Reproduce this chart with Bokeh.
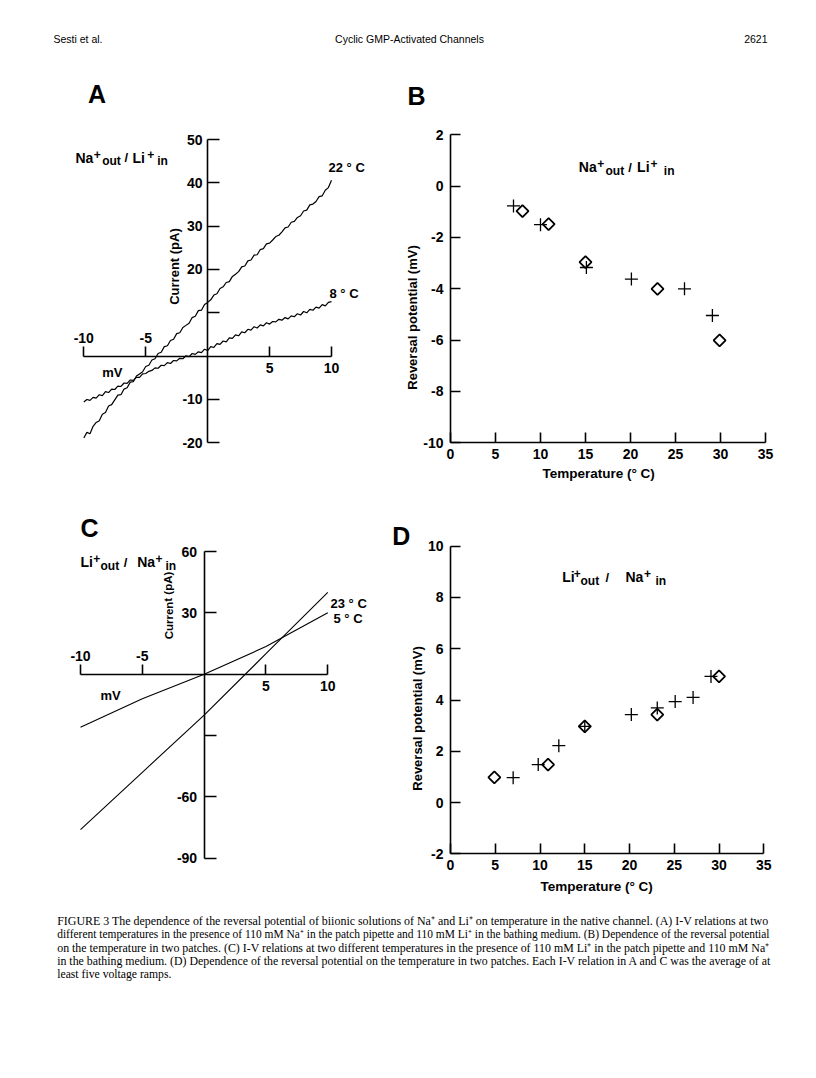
from bokeh.plotting import figure
from bokeh.models import Range1d, LinearAxis, FixedTicker, Label, PrintfTickFormatter
from bokeh.embed import file_html
from bokeh.resources import INLINE

# ---------------- data ----------------
# Panel A: I-V traces, Na+ out / Li+ in
a_mv = [-10.0, -9.75, -9.5, -9.25, -9.0, -8.75, -8.5, -8.25, -8.0, -7.75,
        -7.5, -7.25, -7.0, -6.75, -6.5, -6.25, -6.0, -5.75, -5.5, -5.25,
        -5.0, -4.75, -4.5, -4.25, -4.0, -3.75, -3.5, -3.25, -3.0, -2.75,
        -2.5, -2.25, -2.0, -1.75, -1.5, -1.25, -1.0, -0.75, -0.5, -0.25,
        0.0, 0.25, 0.5, 0.75, 1.0, 1.25, 1.5, 1.75, 2.0, 2.25,
        2.5, 2.75, 3.0, 3.25, 3.5, 3.75, 4.0, 4.25, 4.5, 4.75,
        5.0, 5.25, 5.5, 5.75, 6.0, 6.25, 6.5, 6.75, 7.0, 7.25,
        7.5, 7.75, 8.0, 8.25, 8.5, 8.75, 9.0, 9.25, 9.5, 9.75, 10.0]
a_22C = [-18.9, -17.6, -17.9, -16.2, -15.3, -14.9, -13.4, -13.0, -11.5, -11.2,
         -10.1, -9.0, -8.9, -7.6, -7.3, -6.0, -5.9, -4.6, -4.1, -3.6,
         -2.4, -2.1, -0.9, -0.6, 0.6, 0.9, 2.2, 2.4, 3.6, 3.9,
         5.2, 5.4, 6.6, 7.1, 7.6, 8.9, 9.2, 10.5, 10.6, 11.9,
         12.4, 13.0, 14.1, 14.4, 15.6, 16.0, 17.0, 17.2, 18.4, 18.9,
         19.5, 20.6, 20.8, 22.0, 22.2, 23.3, 23.4, 24.6, 24.8, 25.9,
         26.1, 26.8, 27.6, 27.9, 28.7, 29.6, 29.8, 30.9, 31.1, 32.0,
         32.4, 33.5, 33.7, 34.9, 35.1, 35.7, 36.8, 37.0, 38.3, 38.9, 40.6]
a_8C = [-10.6, -10.0, -10.2, -9.5, -9.7, -8.9, -9.1, -8.2, -8.4, -7.6,
        -7.7, -6.9, -7.0, -6.2, -6.3, -5.5, -5.6, -4.9, -4.9, -4.1,
        -4.0, -3.5, -3.3, -2.7, -2.8, -2.1, -2.2, -1.5, -1.7, -1.0,
        -1.1, -0.5, -0.6, 0.1, -0.1, 0.6, 0.4, 1.0, 0.8, 1.6,
        1.3, 2.2, 2.0, 2.9, 2.7, 3.5, 3.3, 4.2, 4.1, 4.9,
        4.7, 5.6, 5.4, 6.2, 6.0, 6.8, 6.5, 7.2, 7.0, 7.7,
        7.4, 8.0, 7.9, 8.5, 8.3, 8.9, 8.6, 9.3, 9.1, 9.8,
        9.5, 10.3, 10.0, 10.8, 10.6, 11.3, 11.1, 11.9, 11.6, 12.4, 12.6]

# Panel B: reversal potential vs temperature, Na+ out / Li+ in
b_cross_t = [7.0, 10.0, 15.1, 20.1, 26.0, 29.1]
b_cross_v = [-0.77, -1.5, -3.17, -3.62, -4.0, -5.04]
b_diam_t = [8.0, 10.9, 15.0, 23.0, 29.9]
b_diam_v = [-0.97, -1.48, -2.96, -4.0, -6.01]

# Panel C: I-V relations, Li+ out / Na+ in
c_mv = [-10, -5, 0, 5, 10]
c_23C = [-76, -48, -20, 10, 40]
c_5C = [-26, -12, 0, 13.5, 30]

# Panel D: reversal potential vs temperature, Li+ out / Na+ in
d_cross_t = [7.0, 9.8, 12.1, 15.0, 20.2, 23.1, 25.1, 27.1, 29.1]
d_cross_v = [0.97, 1.48, 2.22, 2.97, 3.43, 3.69, 3.94, 4.1, 4.92]
d_diam_t = [4.9, 10.9, 15.0, 23.1, 30.0]
d_diam_v = [0.98, 1.48, 2.97, 3.43, 4.92]

# tick values
a_x_ticks_below = [5, 10]
a_x_ticks_above = [-10, -5]
a_y_ticks_labelled = [-20, -10, 20, 30, 40, 50]
a_y_ticks_plain = [10]
c_x_ticks_below = [5, 10]
c_x_ticks_above = [-10, -5]
c_y_ticks_labelled = [-90, -60, 30, 60]
c_y_ticks_plain = [-30]
bd_x_ticks = [0, 5, 10, 15, 20, 25, 30, 35]
b_y_ticks = [-10, -8, -6, -4, -2, 0, 2]
d_y_ticks = [-2, 0, 2, 4, 6, 8, 10]

caption_lines = [
    "FIGURE 3   The dependence of the reversal potential of biionic solutions of Na\u207a and Li\u207a on temperature in the native channel. (A) I-V relations at two",
    "different temperatures in the presence of 110 mM Na\u207a in the patch pipette and 110 mM Li\u207a in the bathing medium. (B) Dependence of the reversal potential",
    "on the temperature in two patches. (C) I-V relations at two different temperatures in the presence of 110 mM Li\u207a in the patch pipette and 110 mM Na\u207a",
    "in the bathing medium. (D) Dependence of the reversal potential on the temperature in two patches. Each I-V relation in A and C was the average of at",
    "least five voltage ramps.",
]
caption_sizes = [11.95, 11.45, 11.9, 11.85, 11.7]

# ---------------- page figure ----------------
FONT = "Liberation Sans"
W, H = 800, 1062
p = figure(width=W, height=H, x_range=Range1d(0, W), y_range=Range1d(H, 0),
           x_axis_type=None, y_axis_type=None, toolbar_location=None,
           output_backend="svg", min_border=0, outline_line_color=None)
p.background_fill_color = "white"
p.border_fill_color = "white"


def make_range(p0, v0, p1, v1, lo, hi):
    k = (v1 - v0) / (p1 - p0)
    return Range1d(start=v0 + (lo - p0) * k, end=v0 + (hi - p0) * k)


p.extra_x_ranges = {
    "Ax": make_range(83.3, -10, 331.0, 10, 0, W),
    "Bx": make_range(450.0, 0, 765.0, 35, 0, W),
    "Cx": make_range(80.0, -10, 327.3, 10, 0, W),
    "Dx": make_range(450.0, 0, 763.3, 35, 0, W),
}
p.extra_y_ranges = {
    "Ay": make_range(139.0, 50, 442.3, -20, H, 0),
    "By": make_range(134.3, 2, 442.3, -10, H, 0),
    "Cy": make_range(551.0, 60, 857.7, -90, H, 0),
    "Dy": make_range(545.7, 10, 853.3, -2, H, 0),
}


def axis(side, xr, yr, loc, ticks, bounds=None, tick_in=0, tick_out=0,
         standoff=6, line=True, labels=True):
    ax = LinearAxis(x_range_name=xr, y_range_name=yr, fixed_location=loc,
                    ticker=FixedTicker(ticks=ticks, minor_ticks=[]),
                    formatter=PrintfTickFormatter(format="%d"),
                    major_tick_in=tick_in, major_tick_out=tick_out,
                    minor_tick_in=0, minor_tick_out=0,
                    major_label_standoff=standoff,
                    axis_line_width=1.6, axis_line_color="black" if line else None,
                    major_tick_line_width=1.6, major_tick_line_color="black",
                    major_label_text_font=FONT, major_label_text_font_size="14px",
                    major_label_text_font_style="bold",
                    major_label_text_color="black" if labels else None)
    if bounds is not None:
        ax.bounds = bounds
    p.add_layout(ax, side)


def txt(x, y, s, size=13, bold=True, font=FONT, align="left", baseline="alphabetic", angle=0.0):
    p.add_layout(Label(x=x, y=y, text=s, text_font=font, text_font_size=f"{size}px",
                       text_font_style="bold" if bold else "normal", text_align=align,
                       text_baseline=baseline, angle=angle, text_color="black"))


def ion(x0, base, parts):
    for dx, dy, s, size in parts:
        txt(x0 + dx, base + dy, s, size=size)


# ---- Panel A ----
axis("below", "Ax", "Ay", 0, a_x_ticks_below, bounds=(-10, 10), tick_in=10, standoff=7)
axis("above", "Ax", "Ay", 0, a_x_ticks_above, tick_out=10, standoff=3, line=False)
axis("left", "Ax", "Ay", 0, a_y_ticks_labelled, bounds=(-20, 50), tick_in=12, standoff=5)
axis("left", "Ax", "Ay", 0, a_y_ticks_plain, tick_in=12, line=False, labels=False)
p.line(a_mv, a_22C, line_color="black", line_width=1.2, x_range_name="Ax", y_range_name="Ay")
p.line(a_mv, a_8C, line_color="black", line_width=1.2, x_range_name="Ax", y_range_name="Ay")
txt(87.5, 93, "A", size=25)
ion(75, 157, [(0, 0, "Na", 14), (18.3, -3.5, "+", 12), (26.7, 3.5, "out", 12),
              (49, 0, "/", 13), (57, 0, "Li", 14), (71.7, -3.5, "+", 12), (81.7, 3.5, "in", 12)])
txt(328, 167, "22 \u00b0 C")
txt(329, 293, "8 \u00b0 C")
txt(101.7, 372, "mV")
txt(174, 266, "Current (pA)", align="center", baseline="middle", angle=1.5708)

# ---- Panel B ----
axis("left", "Bx", "By", 0, b_y_ticks, bounds=(-10, 2), tick_in=10, standoff=7)
axis("below", "Bx", "By", -10, bd_x_ticks, bounds=(0, 35), tick_in=10, standoff=6)
p.scatter(b_cross_t, b_cross_v, marker="cross", size=13, line_color="black", line_width=1.3,
          x_range_name="Bx", y_range_name="By")
p.scatter(b_diam_t, b_diam_v, marker="square", angle=0.7854, size=8.5, fill_color=None,
          line_color="black", line_width=1.8, x_range_name="Bx", y_range_name="By")
txt(407, 95, "B", size=25)
ion(578.3, 166.7, [(0, 0, "Na", 14), (18.4, -3.5, "+", 12), (26.7, 3.5, "out", 12),
                   (49.5, 0, "/", 13), (58.3, 0, "Li", 14), (71.7, -3.5, "+", 12), (85, 3.5, "in", 12)])
txt(600, 473, "Temperature  (\u00b0 C)", size=13.5, align="center", baseline="middle")
txt(412, 317, "Reversal potential (mV)", align="center", baseline="middle", angle=1.5708)

# ---- Panel C ----
axis("below", "Cx", "Cy", 0, c_x_ticks_below, bounds=(-10, 10), tick_in=10, standoff=7)
axis("above", "Cx", "Cy", 0, c_x_ticks_above, tick_out=10, standoff=3, line=False)
axis("left", "Cx", "Cy", 0, c_y_ticks_labelled, bounds=(-90, 60), tick_in=12, standoff=7)
axis("left", "Cx", "Cy", 0, c_y_ticks_plain, tick_in=12, line=False, labels=False)
p.line(c_mv, c_23C, line_color="black", line_width=1.1, x_range_name="Cx", y_range_name="Cy")
p.line(c_mv, c_5C, line_color="black", line_width=1.1, x_range_name="Cx", y_range_name="Cy")
txt(80, 527, "C", size=25)
ion(80, 561.7, [(0, 0, "Li", 14), (12.7, -3.5, "+", 12), (20, 3.5, "out", 12),
                (43.3, 0, "/", 13), (56.7, 0, "Na", 14), (75, -3.5, "+", 12), (85, 3.5, "in", 12)])
txt(330, 603, "23 \u00b0 C")
txt(333, 618, "5 \u00b0 C")
txt(100, 695, "mV")
txt(168, 605, "Current (pA)", size=11.5, align="center", baseline="middle", angle=1.5708)

# ---- Panel D ----
axis("left", "Dx", "Dy", 0, d_y_ticks, bounds=(-2, 10), tick_in=10, standoff=7)
axis("below", "Dx", "Dy", -2, bd_x_ticks, bounds=(0, 35), tick_in=10, standoff=6)
p.scatter(d_cross_t, d_cross_v, marker="cross", size=13, line_color="black", line_width=1.3,
          x_range_name="Dx", y_range_name="Dy")
p.scatter(d_diam_t, d_diam_v, marker="square", angle=0.7854, size=8.5, fill_color=None,
          line_color="black", line_width=1.8, x_range_name="Dx", y_range_name="Dy")
txt(391.7, 535, "D", size=25)
ion(561.7, 576.7, [(0, 0, "Li", 14), (11.6, -3.5, "+", 12), (18.3, 3.5, "out", 12),
                   (43.3, 0, "/", 13), (63.3, 0, "Na", 14), (81.7, -3.5, "+", 12), (93.3, 3.5, "in", 12)])
txt(598, 886, "Temperature  (\u00b0 C)", size=13.5, align="center", baseline="middle")
txt(417, 718, "Reversal potential (mV)", align="center", baseline="middle", angle=1.5708)

# ---- header ----
txt(53, 38.5, "Sesti et al.", size=10.5, bold=False, baseline="middle")
txt(409, 38.5, "Cyclic GMP-Activated Channels", size=10.5, bold=False, align="center", baseline="middle")
txt(767, 38.5, "2621", size=10.5, bold=False, align="right", baseline="middle")

# ---- caption ----
for i, line in enumerate(caption_lines):
    txt(56.7, 920 + 13.5 * i, line, size=caption_sizes[i], bold=False, font="Liberation Serif",
        baseline="middle")

open("out.html", "w").write(file_html(p, INLINE))
